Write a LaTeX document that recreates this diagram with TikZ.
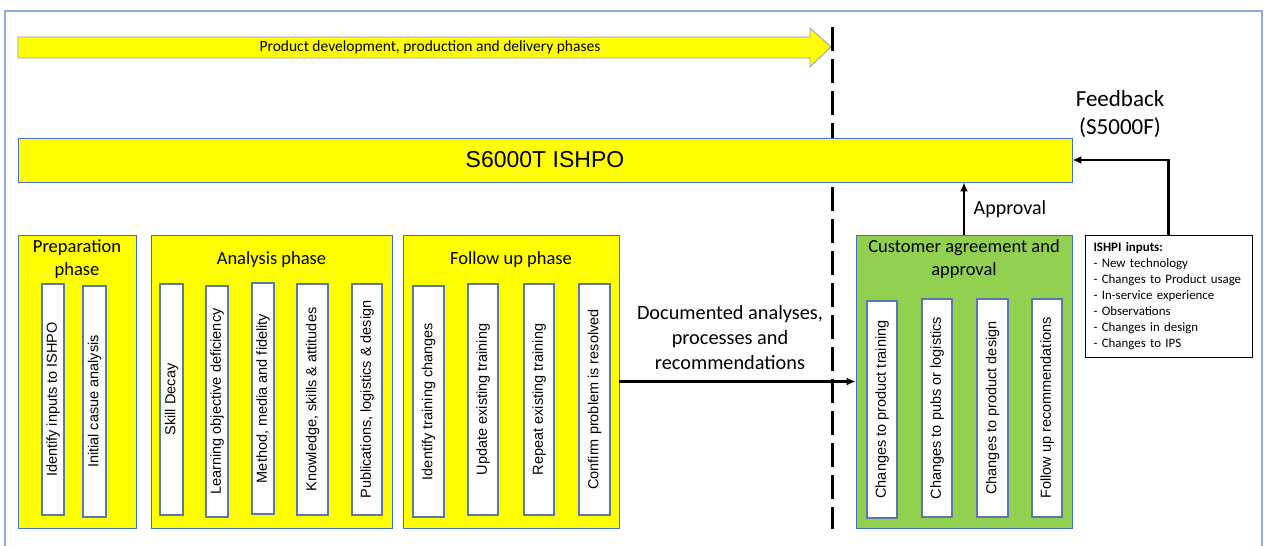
\documentclass[tikz,border=0pt]{standalone}
\usepackage{fontspec}
\setmainfont{Carlito}
\newfontfamily\arialfont{Liberation Sans}
\usetikzlibrary{arrows.meta}

\definecolor{frameblue}{HTML}{8EAADB}
\definecolor{edgeblue}{HTML}{4472C4}
\definecolor{tileedge}{HTML}{5A78B0}
\definecolor{phaseyellow}{HTML}{FFFF00}
\definecolor{agreegreen}{HTML}{92D050}
\definecolor{arrowedge}{HTML}{8EA0B8}

\begin{document}
\begin{tikzpicture}[x=1pt,y=-1pt,
  phasebox/.style={draw=edgeblue, fill=phaseyellow, line width=0.8pt, inner sep=0pt},
  greenbox/.style={phasebox, fill=agreegreen},
  tile/.style={draw=tileedge, fill=white, line width=1.2pt, rotate=90, inner sep=0pt,
    font=\arialfont\fontsize{14.5}{17}\selectfont},
  title/.style={align=center, inner sep=0pt, font=\fontsize{18.5}{23}\selectfont},
  label/.style={align=center, inner sep=0pt},
  conn/.style={line width=2.5pt, -{Latex[length=9pt,width=8pt]}},
  cutline/.style={line width=3pt, dash pattern=on 24pt off 8pt}
]
\useasboundingbox (0,0) rectangle (1266,546);

% outer frame (open at the bottom)
\draw[frameblue, line width=2pt] (5,546) -- (5,11) -- (1262,11) -- (1262,546);

% phase arrow along the top
\draw[draw=arrowedge, fill=phaseyellow, line width=0.8pt]
  (18,37) -- (810,37) -- (810,28) -- (831,47) -- (810,67) -- (810,58) -- (18,58) -- cycle;
\node[label, font=\fontsize{15.5}{18}\selectfont] (phasetext) at (430,47)
  {Product development, production and delivery phases};

% dashed boundary
\coordinate (cuttop) at (832,27);
\coordinate (cutbot) at (832,529);
\draw[cutline] (cuttop) -- (cutbot);

% ISHPO bar
\node[phasebox, minimum width=1054, minimum height=44,
  font=\arialfont\fontsize{23}{26}\selectfont] (bar) at (545,160) {S6000T ISHPO};

% phase boxes
\node[phasebox, minimum width=118, minimum height=293] (prep) at (77,381.5) {};
\node[phasebox, minimum width=241, minimum height=293] (analysis) at (271.5,381.5) {};
\node[phasebox, minimum width=216, minimum height=293] (follow) at (511,381.5) {};
\node[greenbox, minimum width=216, minimum height=293] (agree) at (964,381.5) {};

\node[title] (preptitle) at (77,259.5) {Preparation\\phase};
\node[title] (analysistitle) at (271.5,260) {Analysis phase};
\node[title] (followtitle) at (511,260) {Follow up phase};
\node[title] (agreetitle) at (964,259.5) {Customer agreement and\\approval};

% preparation tiles
\node[tile, minimum width=231, minimum height=22] (p1) at (53,399.5) {Identify inputs to ISHPO};
\node[tile, minimum width=231, minimum height=23] (p2) at (94.5,401.5) {Initial casue analysis};

% analysis tiles
\node[tile, minimum width=231, minimum height=23] (a1) at (171.5,399.5) {Skill Decay};
\node[tile, minimum width=231, minimum height=22] (a2) at (217,401.5) {Learning objective deficiency};
\node[tile, minimum width=231, minimum height=22] (a3) at (263,398.5) {Method, media and fidelity};
\node[tile, minimum width=231, minimum height=31] (a4) at (312.5,399.5) {Knowledge, skills \& attitudes};
\node[tile, minimum width=231, minimum height=30] (a5) at (367,399.5) {Publications, logistics \& design};

% follow up tiles
\node[tile, minimum width=231, minimum height=31] (f1) at (428.5,401.5) {Identify training changes};
\node[tile, minimum width=231, minimum height=30] (f2) at (483,399.5) {Update existing training};
\node[tile, minimum width=231, minimum height=30] (f3) at (539,399.5) {Repeat existing training};
\node[tile, minimum width=231, minimum height=31] (f4) at (594.5,399.5) {Confirm problem is resolved};

% agreement tiles
\node[tile, minimum width=217, minimum height=30] (g1) at (882,409.5) {Changes to product training};
\node[tile, minimum width=218, minimum height=30] (g2) at (937,408) {Changes to pubs or logistics};
\node[tile, minimum width=218, minimum height=31] (g3) at (992.5,408) {Changes to product design};
\node[tile, minimum width=218, minimum height=30] (g4) at (1047,408) {Follow up recommendations};

% inputs box
\node[draw=black, line width=1pt, fill=white, minimum width=167, minimum height=122,
  text width=150, align=left, inner sep=0pt,
  font=\fontsize{12.9}{16}\selectfont] (ishpi) at (1168.5,296)
  {\textbf{ISHPI inputs:}\\
   - New technology\\
   - Changes to Product usage\\
   - In-service experience\\
   - Observations\\
   - Changes in design\\
   - Changes to IPS};

% labels
\node[label, font=\fontsize{23}{28}\selectfont] (feedback) at (1120,114) {Feedback\\(S5000F)};
\node[label, font=\fontsize{20}{24}\selectfont] (approval) at (1010,209) {Approval};
\node[label, font=\fontsize{20.3}{25}\selectfont] (documented) at (730,337.5)
  {Documented analyses,\\processes and\\recommendations};

% connectors
\draw[conn] (follow.east) -- (agree.west);
\draw[conn] (agree.north) -- (agree.north |- bar.south);
\draw[conn] (ishpi.north) |- (bar.east);
\end{tikzpicture}
\end{document}
